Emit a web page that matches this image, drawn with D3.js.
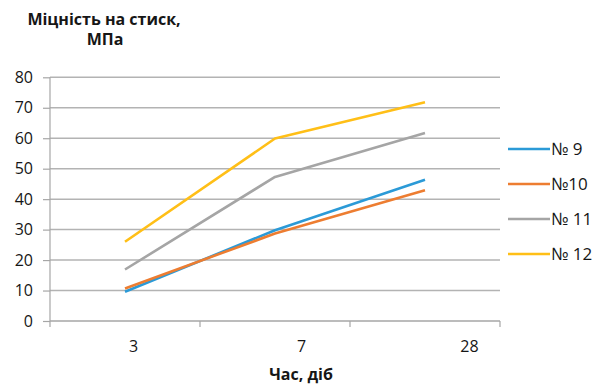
<!DOCTYPE html>
<html>
<head>
<meta charset="utf-8">
<script src="https://cdn.jsdelivr.net/npm/d3@7"></script>
<style>
  html, body { margin: 0; padding: 0; background: #fff; }
  svg { display: block; font-family: "Open Sans", "Noto Sans", sans-serif; }
</style>
</head>
<body>
<svg id="chart" width="602" height="385"></svg>
<script>
// Compressive strength (MPa) by curing age (days) for four mixes
const categories = ["3", "7", "28"];
const yTicks = [0, 10, 20, 30, 40, 50, 60, 70, 80];
const seriesNames = ["№ 9", "№10", "№ 11", "№ 12"];
const s9 = [9.6, 29.8, 46.4];
const s10 = [10.7, 28.7, 42.9];
const s11 = [16.9, 47.3, 61.7];
const s12 = [26.0, 59.9, 71.8];
const colors = ["#2b9ad7", "#ed7d31", "#a5a5a5", "#ffbf17"];

const series = [s9, s10, s11, s12].map((v, i) => ({ name: seriesNames[i], values: v, color: colors[i] }));

const svg = d3.select("#chart");
const plotL = 50, plotR = 500, plotT = 77.3, plotB = 321;
const textColor = "#161616";

const x = d3.scaleBand().domain(categories).range([plotL, plotR]);
const xLabel = d3.scalePoint().domain(categories).range([133, 469]);
const y = d3.scaleLinear().domain([0, 80]).range([plotB, plotT]);

// horizontal gridlines
svg.append("g")
  .selectAll("line")
  .data(yTicks.filter(t => t > 0))
  .join("line")
  .attr("x1", plotL).attr("x2", plotR)
  .attr("y1", d => y(d)).attr("y2", d => y(d))
  .attr("stroke", "#b3b3b3").attr("stroke-width", 1.5);

// y axis
const yAxis = svg.append("g")
  .attr("transform", `translate(${plotL},0)`)
  .call(d3.axisLeft(y).tickValues(yTicks).tickSize(7).tickPadding(10));
yAxis.select(".domain").attr("stroke", "#a6a6a6").attr("stroke-width", 1.2)
  .attr("d", `M0,${plotT}V${plotB + 6}`);
yAxis.selectAll(".tick line").attr("stroke", "#a6a6a6").attr("stroke-width", 1.2);
yAxis.selectAll(".tick text").attr("font-size", 16).attr("fill", textColor)
  .attr("font-family", "'Open Sans', sans-serif");

// x axis baseline with tick marks at category boundaries
svg.append("line")
  .attr("x1", plotL).attr("x2", plotR)
  .attr("y1", plotB).attr("y2", plotB)
  .attr("stroke", "#a6a6a6").attr("stroke-width", 1.5);
svg.append("g")
  .selectAll("line")
  .data(categories)
  .join("line")
  .attr("x1", d => x(d) + x.bandwidth()).attr("x2", d => x(d) + x.bandwidth())
  .attr("y1", plotB).attr("y2", plotB + 6)
  .attr("stroke", "#a6a6a6").attr("stroke-width", 1.2);

// x category labels
const xAxis = svg.append("g")
  .attr("transform", `translate(0,${plotB + 14})`)
  .call(d3.axisBottom(xLabel).tickSize(0).tickPadding(6));
xAxis.select(".domain").remove();
xAxis.selectAll(".tick text").attr("font-size", 16).attr("fill", textColor)
  .attr("font-family", "'Open Sans', sans-serif");

// series lines
const line = d3.line()
  .x((d, i) => x(categories[i]) + x.bandwidth() / 2)
  .y(d => y(d));
svg.append("g")
  .selectAll("path")
  .data(series)
  .join("path")
  .attr("d", d => line(d.values))
  .attr("fill", "none")
  .attr("stroke", d => d.color)
  .attr("stroke-width", 2.6)
  .attr("stroke-linejoin", "round");

// legend
const legendY = d3.scalePoint().domain(seriesNames).range([149, 254]);
const lg = svg.append("g")
  .selectAll("g")
  .data(series)
  .join("g")
  .attr("transform", d => `translate(508,${legendY(d.name)})`);
lg.append("line").attr("x1", 0).attr("x2", 42).attr("y1", 0).attr("y2", 0)
  .attr("stroke", d => d.color).attr("stroke-width", 2.6);
lg.append("text").attr("x", 43).attr("y", 0).attr("dy", "0.36em")
  .attr("font-size", 17).attr("fill", textColor)
  .text(d => d.name);

// axis titles
const title = svg.append("text").attr("text-anchor", "middle")
  .attr("font-size", 16).attr("font-weight", "bold").attr("fill", textColor);
title.append("tspan").attr("x", 104).attr("y", 25).text("Міцність на стиск,");
title.append("tspan").attr("x", 105).attr("y", 45).text("МПа");

svg.append("text").attr("x", 301).attr("y", 380).attr("text-anchor", "middle")
  .attr("font-size", 16).attr("font-weight", "bold").attr("fill", textColor)
  .text("Час, діб");
</script>
</body>
</html>
